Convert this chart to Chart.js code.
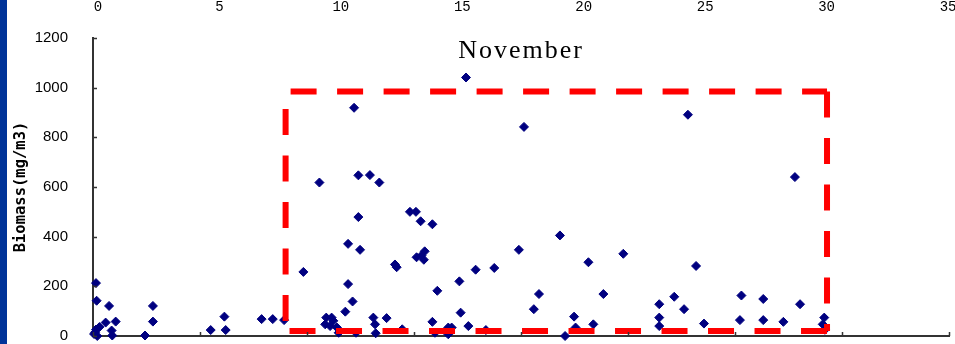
<!DOCTYPE html>
<html>
<head>
<meta charset="utf-8">
<script src="https://cdn.jsdelivr.net/npm/chart.js@4"></script>
<style>
  html, body { margin: 0; padding: 0; background: #fff; }
  #wrap { position: relative; width: 955px; height: 344px; overflow: hidden; }
  #strip { position: absolute; left: 0; top: 0; width: 7px; height: 344px; background: #003399; }
</style>
</head>
<body>
<div id="wrap">
  <canvas id="bioChart" width="955" height="344"></canvas>
  <div id="strip"></div>
</div>
<script>
// sample positions (x) and biomass values (mg/m3)
const xValues = [
  0.14, 0.17, 0.75, 0.59, 1.06, 0.14, 0.05, 0.2, 0.3, 0.1, 0.87, 0.9, 2.43, 2.8, 2.8,
  5.5, 6.14, 6.2, 7.88, 8.4, 8.93, 9.83, 10.58, 12.4, 12.94, 13.38, 12.4, 11.92, 12.48,
  11.92, 12.13, 11.79, 10.9, 11.15, 10.85, 11.08, 11.23, 11.4, 11.48, 12.29, 13.1, 13.18,
  13.21, 13.72, 14.81, 15.09, 15.31, 15.86, 14.11, 14.19, 15.12, 15.35, 15.5, 15.46, 16.09,
  15.86, 14.45, 15.98, 16.6, 16.76, 16.6, 17.12, 17.18, 17.54, 17.88, 18.75, 18.36, 19.9,
  20.6, 20.84, 21.82, 22.06, 22.48, 22.55, 23.15, 23.38, 23.85, 24.78, 26.46, 26.46, 26.46,
  27.16, 27.62, 28.18, 28.55, 30.3, 30.23, 31.32, 31.32, 32.26, 33.04, 34.17, 34.1, 34.2,
  12.2, 20.14, 27.8, 17.43, 32.8
];
const yValues = [
  213, 142, 121, 54, 58, 26, 8, 0, 36, 15, 22, 2, 2, 121, 58,
  24, 78, 24, 68, 68, 64, 258, 618, 647, 648, 618, 479, 371, 347,
  209, 139, 98, 74, 74, 47, 40, 61, 34, 13, 13, 74, 47,
  11, 72, 500, 500, 462, 450, 288, 277, 317, 324, 341, 307, 182,
  57, 27, 13, 34, 34, 7, 220, 94, 40, 267, 274, 24, 347,
  108, 169, 405, 0, 78, 34, 297, 47, 169, 331, 128, 74, 40,
  158, 108, 282, 50, 163, 64, 149, 64, 57, 128, 74, 47, 25,
  919, 842, 891, 1041, 640
];
const yTicks = [0, 200, 400, 600, 800, 1000, 1200];
const xTicks = [0, 5, 10, 15, 20, 25, 30, 35, 40];
// leftover axis labels of the chart above (cut off at the top)
const topLabels = [0, 5, 10, 15, 20, 25, 30, 35];
const topRange = [-0.206, 35.04];
// highlighted region
const boxX = [9, 34.3];
const boxY = [20, 985];

const points = xValues.map((v, i) => ({ x: v, y: yValues[i] }));

const decor = {
  id: 'decor',
  afterDatasetsDraw(chart) {
    const { ctx, scales: { x, y } } = chart;
    const l = x.getPixelForValue(boxX[0]), r = x.getPixelForValue(boxX[1]);
    const t = y.getPixelForValue(boxY[1]), b = y.getPixelForValue(boxY[0]);
    // each side dashed on its own, like the original drawing
    const sides = [
      [l, t, r, t, 41.5],
      [r, t, r, b, 0],
      [r, b, l, b, 0],
      [l, b, l, t, 36.5]
    ];
    ctx.save();
    ctx.strokeStyle = '#ff0000';
    ctx.lineWidth = 6;
    ctx.setLineDash([26, 20.5]);
    sides.forEach(([x0, y0, x1, y1, off]) => {
      ctx.lineDashOffset = off;
      ctx.beginPath();
      ctx.moveTo(x0, y0);
      ctx.lineTo(x1, y1);
      ctx.stroke();
    });
    ctx.restore();
  },
  afterDraw(chart) {
    const { ctx, chartArea, scales: { x, y, x2 } } = chart;
    ctx.save();
    // tick marks pointing inside
    ctx.strokeStyle = '#333';
    ctx.lineWidth = 1.5;
    ctx.beginPath();
    yTicks.forEach(v => {
      const py = Math.round(y.getPixelForValue(v)) + 0.5;
      ctx.moveTo(chartArea.left, py);
      ctx.lineTo(chartArea.left + 4, py);
    });
    xTicks.forEach(v => {
      const px = Math.round(x.getPixelForValue(v)) + 0.5;
      ctx.moveTo(px, chartArea.bottom);
      ctx.lineTo(px, chartArea.bottom - 4);
    });
    ctx.stroke();

    // title inside the plot
    ctx.fillStyle = '#000';
    ctx.font = '26px "Liberation Serif"';
    ctx.letterSpacing = '2px';
    ctx.textAlign = 'center';
    ctx.textBaseline = 'middle';
    ctx.fillText('November', (chartArea.left + chartArea.right) / 2, 51);

    // top labels
    ctx.letterSpacing = '0px';
    ctx.font = '14px "Liberation Mono"';
    ctx.textBaseline = 'top';
    topLabels.forEach(v => {
      ctx.fillText(String(v), x2.getPixelForValue(v), 0);
    });
    ctx.restore();
  }
};

new Chart(document.getElementById('bioChart'), {
  type: 'scatter',
  data: {
    datasets: [{
      label: 'Biomass',
      data: points,
      pointStyle: 'rectRot',
      pointRadius: 4.5,
      pointHoverRadius: 4.5,
      backgroundColor: '#000080',
      borderColor: '#000080',
      borderWidth: 1,
      clip: false
    }]
  },
  options: {
    responsive: false,
    devicePixelRatio: 1,
    animation: false,
    layout: { padding: { left: 0, top: 38, right: 6, bottom: 8 } },
    plugins: {
      legend: { display: false },
      tooltip: { enabled: false }
    },
    scales: {
      x: {
        type: 'linear',
        min: 0,
        max: 40,
        afterFit(scale) { scale.height = 0; },
        ticks: { display: false, stepSize: 5 },
        grid: { display: false, drawTicks: false },
        border: { display: true, color: '#333', width: 2 }
      },
      x2: {
        type: 'linear',
        position: 'top',
        display: false,
        min: topRange[0],
        max: topRange[1],
        afterFit(scale) { scale.height = 0; }
      },
      y: {
        min: 0,
        max: 1200,
        afterFit(scale) { scale.width = 93; },
        ticks: {
          stepSize: 200,
          padding: 0,
          color: '#000',
          format: { useGrouping: false },
          font: { family: 'Liberation Sans', size: 15, lineHeight: 1 }
        },
        grid: {
          display: true,
          drawOnChartArea: false,
          drawTicks: true,
          tickLength: 25,
          color: 'rgba(0,0,0,0)'
        },
        border: { display: true, color: '#333', width: 2 },
        title: {
          display: true,
          text: 'Biomass(mg/m3)',
          color: '#000',
          font: { family: 'DejaVu Sans Mono', size: 15.5, weight: 'bold' },
          padding: { top: 12, bottom: 0 }
        }
      }
    }
  },
  plugins: [decor]
});
</script>
</body>
</html>
